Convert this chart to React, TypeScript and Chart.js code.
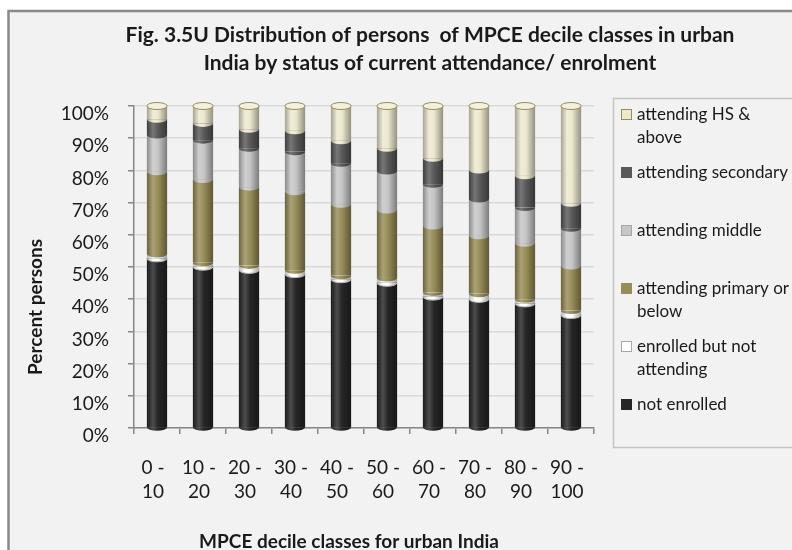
import React, { useEffect, useRef } from "react";
import { Chart, registerables } from "chart.js";

Chart.register(...registerables);

// ---------- data ----------
const deciles = ["0 - 10", "10 - 20", "20 - 30", "30 - 40", "40 - 50", "50 - 60", "60 - 70", "70 - 80", "80 - 90", "90 - 100"];

const notEnrolled = [52.7, 50.1, 49.1, 47.8, 46.2, 45.1, 40.8, 40.1, 38.7, 35.1];
const enrolledNotAttending = [1.3, 1.2, 1.4, 1.2, 1.1, 1.5, 1.3, 1.6, 1.3, 1.4];
const attendingPrimary = [25.6, 25.9, 24.3, 24.4, 22.2, 21.1, 20.6, 18.0, 17.4, 13.8];
const attendingMiddle = [11.4, 12.2, 12.1, 12.4, 12.7, 12.1, 13.0, 11.4, 11.1, 11.7];
const attendingSecondary = [4.9, 5.2, 5.9, 6.5, 7.0, 7.1, 8.1, 9.0, 9.8, 7.8];
const attendingHS = [4.1, 5.4, 7.2, 7.7, 10.8, 13.1, 16.2, 19.9, 21.7, 30.2];

const seriesNames = [
  "not enrolled",
  "enrolled but not attending",
  "attending primary or below",
  "attending middle",
  "attending secondary",
  "attending HS & above",
];
const legendLines = [
  ["not enrolled"],
  ["enrolled but not", "attending"],
  ["attending primary or", "below"],
  ["attending middle"],
  ["attending secondary"],
  ["attending HS &", "above"],
];
const titleLines = [
  "Fig. 3.5U Distribution of persons  of MPCE decile classes in urban",
  "India by status of current attendance/ enrolment",
];
const xTitle = "MPCE decile classes for urban India";
const yTitle = "Percent persons";

// ---------- styles ----------
const FONT = "Lato, 'Open Sans', sans-serif";
const fills = ["#262626", "#ffffff", "#978d58", "#c6c6c6", "#595959", "#ede8cf"];
const swatchBorders = ["#262626", "#a6a6a6", "#978d58", "#a6a6a6", "#595959", "#978d58"];

function hexToRgb(h: string) {
  const n = parseInt(h.slice(1), 16);
  return [(n >> 16) & 255, (n >> 8) & 255, n & 255];
}
function mix(h: string, f: number) {
  const [r, g, b] = hexToRgb(h);
  const t = f < 0 ? 0 : 255;
  const a = Math.abs(f);
  const c = (v: number) => Math.round(v + (t - v) * a);
  return `rgb(${c(r)},${c(g)},${c(b)})`;
}
function cylGradient(ctx: CanvasRenderingContext2D, x: number, w: number, base: string) {
  if (!isFinite(x) || !isFinite(w) || w <= 0) return base;
  const g = ctx.createLinearGradient(x - w / 2, 0, x + w / 2, 0);
  g.addColorStop(0, mix(base, -0.3));
  g.addColorStop(0.3, mix(base, 0.18));
  g.addColorStop(0.55, base);
  g.addColorStop(1, mix(base, -0.38));
  return g;
}

const BAR_PCT = 0.44;

const decorPlugin = {
  id: "decor",
  beforeDraw(chart: any) {
    const c = chart.ctx as CanvasRenderingContext2D;
    c.save();
    c.fillStyle = "#ffffff";
    c.fillRect(0, 0, chart.width, chart.height);
    c.fillStyle = "#f2f2f2";
    c.fillRect(9, 11, chart.width, chart.height);
    c.strokeStyle = "#8a8a8a";
    c.lineWidth = 2.5;
    c.beginPath();
    c.moveTo(8.5, chart.height + 5);
    c.lineTo(8.5, 11);
    c.lineTo(chart.width + 5, 11);
    c.stroke();
    c.restore();
  },
  afterDatasetsDraw(chart: any) {
    const c = chart.ctx as CanvasRenderingContext2D;
    const n = chart.data.datasets.length;
    c.save();
    const ry = 3.5;
    for (let d = 0; d < n; d++) {
      const meta = chart.getDatasetMeta(d);
      meta.data.forEach((el: any) => {
        const w = el.width;
        if (!isFinite(el.x) || !isFinite(el.base) || !isFinite(w)) return;
        c.fillStyle = cylGradient(c, el.x, w, fills[d]);
        c.beginPath();
        c.ellipse(el.x, el.base, w / 2, ry, 0, 0, Math.PI);
        c.fill();
        if (d === 1) {
          c.strokeStyle = "#bdbdbd";
          c.lineWidth = 1;
          c.stroke();
        }
      });
    }
    const top = chart.getDatasetMeta(n - 1);
    top.data.forEach((el: any) => {
      const w = el.width;
      if (!isFinite(el.x) || !isFinite(el.y) || !isFinite(w)) return;
      c.fillStyle = mix(fills[n - 1], 0.35);
      c.strokeStyle = "#978d58";
      c.lineWidth = 1;
      c.beginPath();
      c.ellipse(el.x, el.y, w / 2, ry, 0, 0, Math.PI * 2);
      c.fill();
      c.stroke();
    });
    c.restore();
  },
  afterDraw(chart: any) {
    const c = chart.ctx as CanvasRenderingContext2D;
    c.save();
    c.fillStyle = "#1a1a1a";
    c.textBaseline = "middle";
    c.font = `bold 21px ${FONT}`;
    c.textAlign = "center";
    c.fillText(titleLines[0], 430, 35);
    c.fillText(titleLines[1], 430, 63);
    c.font = `bold 19px ${FONT}`;
    c.fillText(xTitle, 349, 542);
    c.save();
    c.translate(36, 307);
    c.rotate(-Math.PI / 2);
    c.fillText(yTitle, 0, 0);
    c.restore();

    c.strokeStyle = "#c4c4c4";
    c.lineWidth = 1.5;
    c.strokeRect(613.5, 98.5, 260, 349);
    c.font = `17px ${FONT}`;
    c.textAlign = "left";
    const n = chart.data.datasets.length;
    for (let i = 0; i < n; i++) {
      const d = n - 1 - i;
      const y0 = 115 + 58 * i;
      c.fillStyle = fills[d];
      c.fillRect(621, y0 - 6, 11, 11);
      c.strokeStyle = swatchBorders[d];
      c.lineWidth = 1;
      c.strokeRect(621.5, y0 - 5.5, 10, 10);
      c.fillStyle = "#1a1a1a";
      legendLines[d].forEach((t, k) => c.fillText(t, 637, y0 + k * 23));
    }
    c.restore();
  },
};

export default function App() {
  const ref = useRef<HTMLCanvasElement | null>(null);

  useEffect(() => {
    if (!ref.current) return;
    const series = [notEnrolled, enrolledNotAttending, attendingPrimary, attendingMiddle, attendingSecondary, attendingHS];
    const chart = new Chart(ref.current, {
      type: "bar",
      data: {
        labels: deciles.map((d) => {
          const [a, b] = d.split(" - ");
          return [a + " -", b];
        }),
        datasets: series.map((data, i) => ({
          label: seriesNames[i],
          data,
          borderWidth: 0,
          barPercentage: BAR_PCT,
          categoryPercentage: 1,
          backgroundColor: (ctx: any) => {
            const ch = ctx.chart;
            const xs = ch.scales && ch.scales.x;
            if (!xs || ctx.type !== "data") return fills[i];
            const x = xs.getPixelForValue(ctx.dataIndex);
            const w = (xs.width / deciles.length) * BAR_PCT;
            return cylGradient(ch.ctx, x, w, fills[i]);
          },
        })),
      },
      options: {
        responsive: false,
        animation: false,
        devicePixelRatio: 1,
        layout: { padding: { left: 0, top: 106, right: 198, bottom: 0 } },
        plugins: {
          legend: { display: false },
          title: { display: false },
          tooltip: { enabled: false },
        },
        scales: {
          x: {
            stacked: true,
            afterFit: (s: any) => {
              s.height = 122;
            },
            border: { display: true, color: "#868686", width: 1.5 },
            grid: { drawOnChartArea: false, drawTicks: true, tickLength: 6, offset: true, color: "#868686", lineWidth: 1.5 },
            ticks: {
              color: "#1a1a1a",
              font: { family: FONT, size: 19, lineHeight: 1.25 },
              maxRotation: 0,
              autoSkip: false,
              padding: 22,
              labelOffset: -4,
            },
          },
          y: {
            stacked: true,
            min: 0,
            max: 100,
            afterFit: (s: any) => {
              s.width = 134;
            },
            border: { display: true, color: "#868686", width: 1.5 },
            grid: { color: "#d9d9d9", lineWidth: 1.5, drawTicks: true, tickLength: 6, tickColor: "#868686" },
            ticks: {
              stepSize: 10,
              color: "#1a1a1a",
              font: { family: FONT, size: 19 },
              padding: 19,
              labelOffset: 8,
              callback: (v: any) => v + "%",
            },
          },
        },
      },
      plugins: [decorPlugin],
    });
    return () => chart.destroy();
  }, []);

  return (
    <div style={{ position: "fixed", left: 0, top: 0, width: 792, height: 550 }}>
      <canvas ref={ref} width={792} height={550} />
    </div>
  );
}
